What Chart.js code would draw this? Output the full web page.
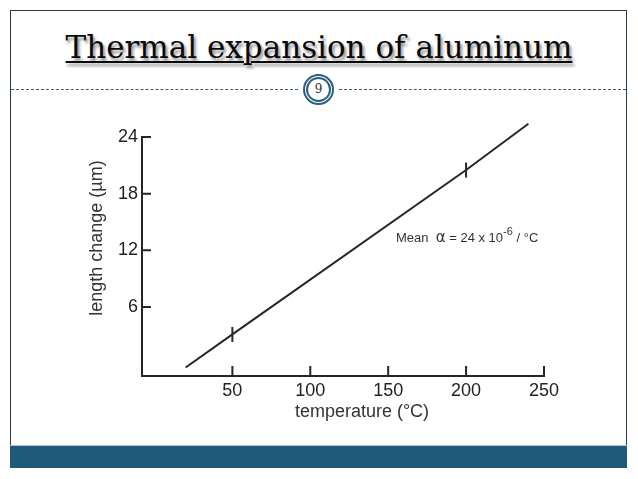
<!DOCTYPE html>
<html>
<head>
<meta charset="utf-8">
<script src="https://cdn.jsdelivr.net/npm/chart.js@4.4.1/dist/chart.umd.min.js"></script>
<style>
  html, body { margin: 0; padding: 0; background: #fff; }
  body { width: 638px; height: 479px; position: relative; overflow: hidden; }
  .frame { position: absolute; left: 10px; top: 10px; width: 615px; height: 456px; border: 1.5px solid #263f50; }
  .bar { position: absolute; left: 10px; top: 445px; width: 617px; height: 22px; background: #1f5a7a; border-top: 1px solid #a9c9d7; }
  .title { position: absolute; left: 0; top: 29px; width: 638px; text-align: center; font-family: "DejaVu Serif", serif; font-size: 31px; line-height: 36px; color: #0a0a0a; text-decoration: underline; text-decoration-thickness: 2px; text-underline-offset: 3px; text-shadow: 2px 3px 3px #8a8a8a; }
  .dash { position: absolute; top: 89px; height: 0; border-top: 1px dashed #3b5d72; }
  .num { position: absolute; left: 303px; top: 74px; width: 31px; height: 31px; box-sizing: border-box; border: 5px double #2b5f7e; border-radius: 50%; background: #fff; font-family: "DejaVu Serif", serif; font-size: 12px; line-height: 21px; text-align: center; color: #333; }
  .chart-box { position: absolute; left: 60px; top: 100px; width: 520px; height: 330px; }
</style>
</head>
<body>
<div class="frame"></div>
<div class="bar"></div>
<div class="title">Thermal expansion of aluminum</div>
<div class="dash" style="left:11px;width:287px"></div>
<div class="dash" style="left:339px;width:287px"></div>
<div class="num">9</div>
<div class="chart-box"><canvas id="chart"></canvas></div>
<script>
// values
const temperature = [20, 50, 200, 240];
const lengthChange = [-0.4, 3.1, 20.5, 25.4];
const markRadius = [0, 7.5, 7.5, 0]; // small bars drawn across the line at 50 and 200
const xTicks = [50, 100, 150, 200, 250];
const yTicks = [6, 12, 18, 24];
const xTitle = "temperature (°C)";
const yTitle = "length change (µm)";

const ink = "#262626";
const font = '"Liberation Sans", Arial, sans-serif';

// tick marks of the old figure point into the plot, draw them here
const innerTicks = {
  id: "innerTicks",
  afterDatasetsDraw(chart) {
    const { ctx, chartArea, scales } = chart;
    ctx.save();
    ctx.strokeStyle = ink;
    ctx.lineWidth = 2;
    ctx.beginPath();
    xTicks.forEach((v) => {
      const px = scales.x.getPixelForValue(v);
      ctx.moveTo(px, chartArea.bottom);
      ctx.lineTo(px, chartArea.bottom - 10);
    });
    yTicks.forEach((v) => {
      const py = scales.y.getPixelForValue(v);
      ctx.moveTo(chartArea.left, py);
      ctx.lineTo(chartArea.left + 9, py);
    });
    ctx.stroke();
    ctx.restore();
  }
};

const labels = {
  id: "labels",
  afterDraw(chart) {
    const { ctx, chartArea, scales } = chart;
    ctx.save();
    ctx.fillStyle = "#333";
    ctx.font = "18px " + font;
    ctx.textAlign = "center";
    ctx.textBaseline = "middle";
    ctx.fillText(xTitle, chartArea.left + 220, chartArea.bottom + 36);
    ctx.save();
    ctx.translate(chartArea.left - 45, chartArea.top + 101);
    ctx.rotate(-Math.PI / 2);
    ctx.fillText(yTitle, 0, 0);
    ctx.restore();

    // Mean alpha note
    let x = scales.x.getPixelForValue(155);
    const y = scales.y.getPixelForValue(12.9);
    ctx.textAlign = "left";
    ctx.textBaseline = "alphabetic";
    const part = (txt, f, dy) => {
      ctx.font = f;
      ctx.fillText(txt, x, y + (dy || 0));
      x += ctx.measureText(txt).width;
    };
    part("Mean  ", "13px " + font);
    part("α", "15px 'DejaVu Sans', sans-serif");
    part(" = 24 x 10", "13px " + font);
    part("-6", "11px " + font, -7);
    part(" / °C", "13px " + font);
    ctx.restore();
  }
};

const ctx = document.getElementById("chart").getContext("2d");
new Chart(ctx, {
  type: "line",
  data: {
    datasets: [
      {
        data: temperature.map((t, i) => ({ x: t, y: lengthChange[i] })),
        borderColor: ink,
        borderWidth: 2,
        fill: false,
        tension: 0,
        clip: false,
        pointStyle: "line",
        rotation: 90,
        pointRadius: markRadius,
        pointHoverRadius: markRadius,
        pointBorderColor: ink,
        pointBorderWidth: 2,
      },
    ],
  },
  options: {
    responsive: true,
    maintainAspectRatio: false,
    animation: false,
    events: [],
    layout: { padding: { left: 10, right: 36, top: 37, bottom: 0 } },
    plugins: {
      legend: { display: false },
      tooltip: { enabled: false },
    },
    scales: {
      x: {
        type: "linear",
        min: -8,
        max: 250,
        afterBuildTicks: (s) => { s.ticks = xTicks.map((v) => ({ value: v })); },
        afterFit: (s) => { s.height = 54; },
        grid: { drawOnChartArea: false, drawTicks: false },
        border: { display: true, color: ink, width: 2 },
        ticks: { color: "#222", padding: 4, font: { size: 18, family: font } },
      },
      y: {
        type: "linear",
        min: -1.3,
        max: 24,
        afterBuildTicks: (s) => { s.ticks = yTicks.map((v) => ({ value: v })); },
        afterFit: (s) => { s.width = 72; },
        grid: { drawOnChartArea: false, drawTicks: false },
        border: { display: true, color: ink, width: 2 },
        ticks: { color: "#222", padding: 4, font: { size: 18, family: font } },
      },
    },
  },
  plugins: [innerTicks, labels],
});
</script>
</body>
</html>
